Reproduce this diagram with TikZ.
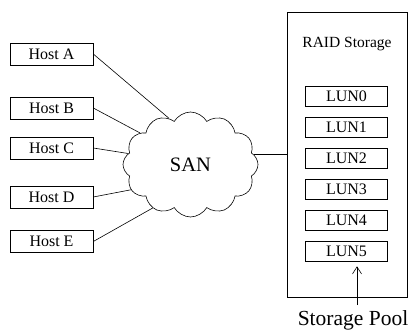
\documentclass[tikz,border=0pt]{standalone}
\usepackage{fontspec}
\setmainfont{Liberation Serif}
\usetikzlibrary{shapes.symbols, arrows.meta}

\begin{document}
\begin{tikzpicture}[x=1pt, y=-1pt, >={Straight Barb[length=7pt, width=9pt]}, line width=0.6pt,
  host/.style={draw, minimum width=83pt, minimum height=22pt, inner sep=0pt, font=\fontsize{16}{18}\selectfont},
  lun/.style={draw, minimum width=82pt, minimum height=20pt, inner sep=0pt, font=\fontsize{16}{18}\selectfont}]

\useasboundingbox (0,0) rectangle (411,331);

% Host
\node[host] (hA) at (51.5,54) {Host A};
\node[host] (hB) at (51.5,108) {Host B};
\node[host] (hC) at (51.5,148) {Host C};
\node[host] (hD) at (51.5,197) {Host D};
\node[host] (hE) at (51.5,241.5) {Host E};

% Rete SAN
\node[cloud, draw, cloud puffs=12, cloud puff arc=120, minimum width=135pt, minimum height=105pt,
  font=\fontsize{20.5}{22}\selectfont] (san) at (190.5,164.5) {SAN};

% Storage RAID
\node[draw, minimum width=120pt, minimum height=285pt, inner sep=0pt] (raid) at (347,154.5) {};
\node[font=\fontsize{15.5}{18}\selectfont, anchor=base] (raidlab) at (347,48) {RAID Storage};

\node[lun] (l0) at (346.5,96) {LUN0};
\node[lun] (l1) at (346.5,127) {LUN1};
\node[lun] (l2) at (346.5,158) {LUN2};
\node[lun] (l3) at (346.5,189) {LUN3};
\node[lun] (l4) at (346.5,220) {LUN4};
\node[lun] (l5) at (346.5,251) {LUN5};

\node[font=\fontsize{21.5}{24}\selectfont, anchor=base, inner sep=0pt] (pool) at (353,325) {Storage Pool};
\coordinate (pooltop) at (357,305);

% Collegamenti
\draw (hA.east) -- (san.115);
\draw (hB.east) -- (san.148);
\draw (hC.east) -- (san.170);
\draw (hD.east) -- (san.203);
\draw (hE.east) -- (san.229);
\draw (san.9) -- (san.9 -| raid.west);
\draw[->, shorten >=5pt] (pooltop) -- (pooltop |- l5.south);

\end{tikzpicture}
\end{document}
